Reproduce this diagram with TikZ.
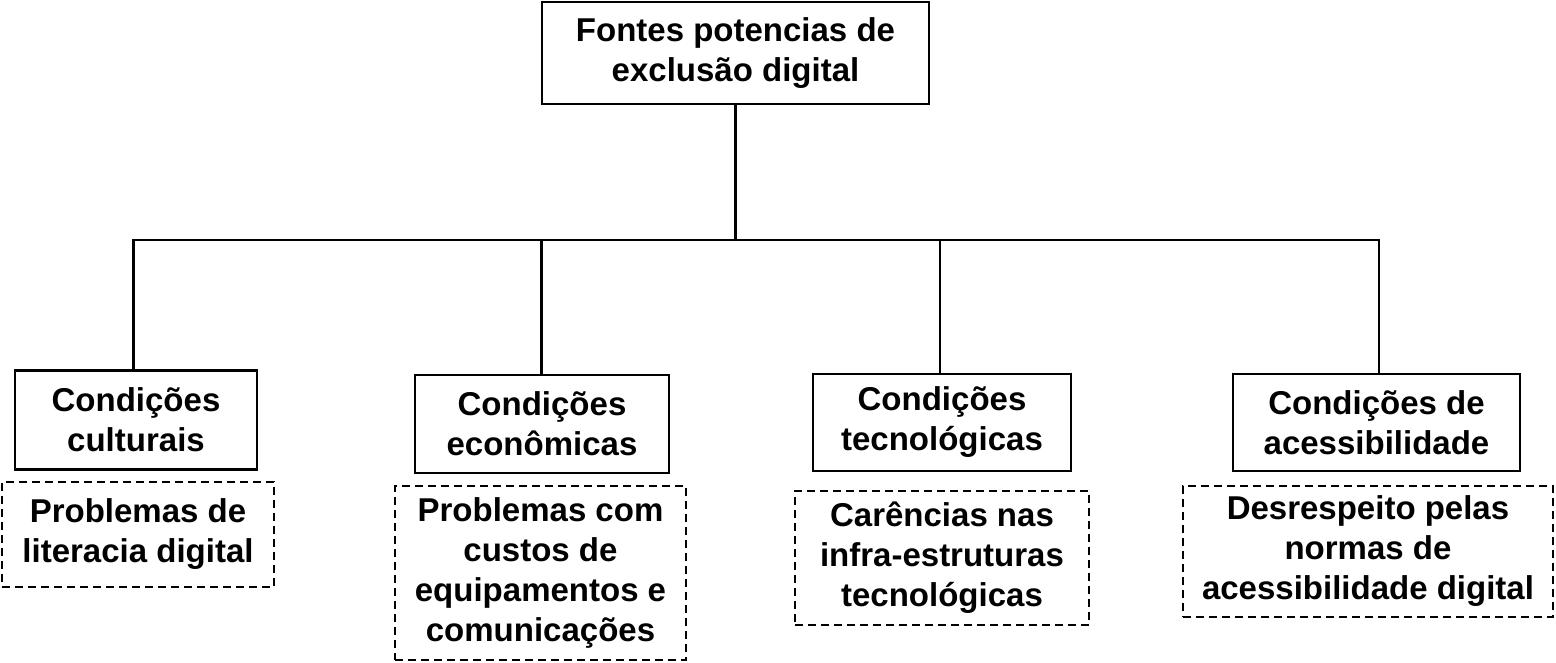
\documentclass[tikz,border=0pt]{standalone}
\usepackage{fontspec}
\setmainfont{Liberation Sans}
\begin{document}
\begin{tikzpicture}[x=1pt,y=-1pt,
  every node/.style={font=\bfseries\fontsize{33}{40}\selectfont, align=center, inner sep=0pt},
  solidbox/.style={draw=black, line width=2.6pt, rectangle},
  dashbox/.style={draw=black, line width=2.3pt, dash pattern=on 8pt off 5pt, rectangle},
  link/.style={draw=black, line width=2.6pt}]
\useasboundingbox (0,0) rectangle (1556,662);
\node[solidbox, minimum width=387pt, minimum height=102pt] (top) at (735.5,53) {Fontes potencias de\\exclusão digital};
\node[solidbox, minimum width=242pt, minimum height=99pt] (b1) at (136,420) {Condições\\culturais};
\node[solidbox, minimum width=254pt, minimum height=98pt] (b2) at (542,424) {Condições\\ econômicas};
\node[solidbox, minimum width=258pt, minimum height=97pt] (b3) at (942,422.5) {Condições\\tecnológicas};
\node[solidbox, minimum width=287pt, minimum height=97pt] (b4) at (1376.5,422.5) {Condições de\\acessibilidade};
\node[dashbox, minimum width=272pt, minimum height=105pt] (d1) at (138,534.5) {Problemas de\\literacia digital};
\node[dashbox, minimum width=291pt, minimum height=174pt] (d2) at (540.5,573) {Problemas com\\custos de\\equipamentos e\\comunicações};
\node[dashbox, minimum width=294pt, minimum height=134pt] (d3) at (942,558) {Carências nas\\infra-estruturas\\tecnológicas};
\node[dashbox, minimum width=370pt, minimum height=131pt] (d4) at (1368,551.5) {Desrespeito pelas\\normas de\\acessibilidade digital};
\coordinate (j) at (735.5,240);
\coordinate (j1) at (133.5,240);
\coordinate (j2) at (541.5,240);
\coordinate (j3) at (940,240);
\coordinate (j4) at (1379,240);
\draw[link] (top.south) -- (j);
\draw[link, line cap=rect] (j1) -- (j4);
\draw[link] (j1) -- (j1 |- b1.north);
\draw[link] (j2) -- (j2 |- b2.north);
\draw[link] (j3) -- (j3 |- b3.north);
\draw[link] (j4) -- (j4 |- b4.north);
\end{tikzpicture}
\end{document}
